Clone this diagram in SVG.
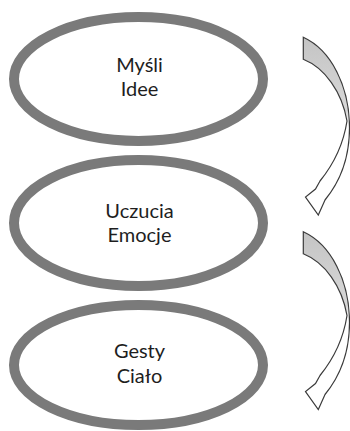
<svg xmlns="http://www.w3.org/2000/svg" xmlns:xlink="http://www.w3.org/1999/xlink" width="350" height="431" viewBox="0 0 350 431">
  <style>
    .oval { fill: #ffffff; stroke: #7a7a7a; stroke-width: 10; }
    .label { font-family: Lato, "Open Sans", "DejaVu Sans", sans-serif; font-size: 20px; fill: #1e1e1e; text-anchor: middle; }
    .arrow { fill: url(#arrowFill); stroke: #3a3a3a; stroke-width: 1.2; stroke-linejoin: miter; }
  </style>
  <defs>
    <linearGradient id="arrowFill" x1="0" y1="0" x2="0" y2="1">
      <stop offset="0" stop-color="#c4c4c4"/>
      <stop offset="0.42" stop-color="#d8d8d8"/>
      <stop offset="0.5" stop-color="#ffffff"/>
      <stop offset="1" stop-color="#ffffff"/>
    </linearGradient>
    <path id="curvedArrow" d="M303.3,37.3 C331,50 349.5,86 349.5,128 C349.5,160 339,183 325,200 L318.3,215 L305.5,197 L315.5,189 L320,181 C333,165 343,147 347,121 C342,92 325,68 303.3,59.3 Z"/>
  </defs>
  <rect x="0" y="0" width="350" height="431" fill="#ffffff"/>
  <g id="node-mysli">
    <ellipse class="oval" cx="138.5" cy="79" rx="124.5" ry="62"/>
    <text class="label" x="139.5" y="72">Myśli</text>
    <text class="label" x="139.5" y="96">Idee</text>
  </g>
  <g id="node-uczucia">
    <ellipse class="oval" cx="138.5" cy="223" rx="124.5" ry="63"/>
    <text class="label" x="139.5" y="217.5">Uczucia</text>
    <text class="label" x="139.5" y="241.5">Emocje</text>
  </g>
  <g id="node-gesty">
    <ellipse class="oval" cx="138.5" cy="365" rx="124.5" ry="60"/>
    <text class="label" x="139.5" y="358">Gesty</text>
    <text class="label" x="139.5" y="382.5">Ciało</text>
  </g>
  <g id="connectors">
    <use xlink:href="#curvedArrow" class="arrow"/>
    <use xlink:href="#curvedArrow" class="arrow" transform="translate(0,194.5)"/>
  </g>
</svg>
